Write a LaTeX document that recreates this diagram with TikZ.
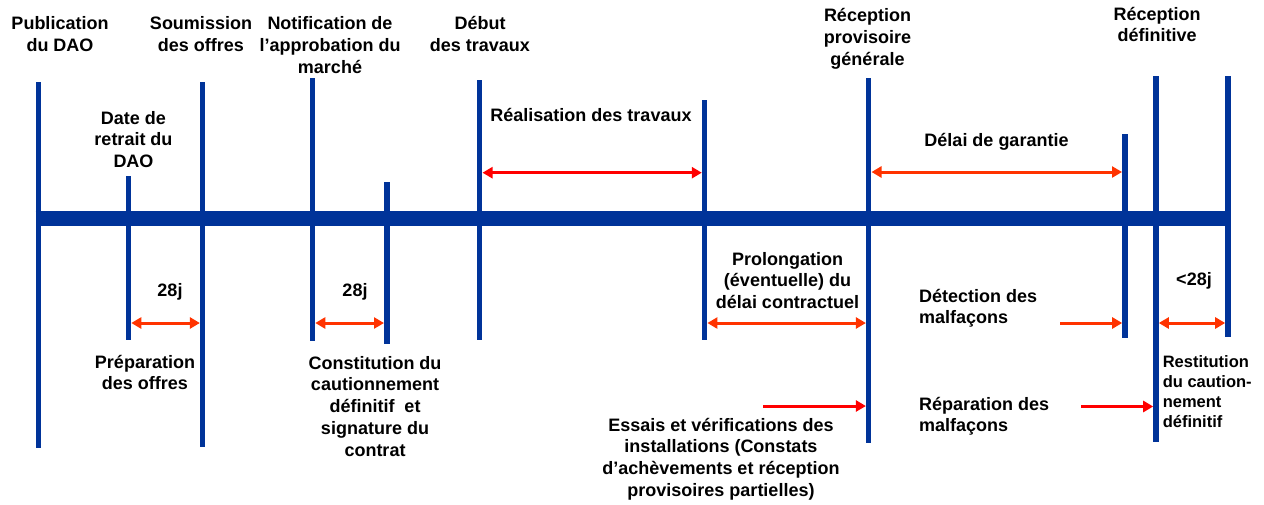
\documentclass[tikz,border=0pt]{standalone}
\usepackage{fontspec}
\setmainfont{Liberation Sans}
\usetikzlibrary{arrows.meta}
\definecolor{barblue}{RGB}{0,51,153}
\definecolor{arrred}{RGB}{255,0,0}
\definecolor{arrorange}{RGB}{255,51,0}
\newcommand\lstrut{\rule{0pt}{15pt}}
\newcommand\sstrut{\rule{0pt}{14pt}}
\tikzset{
  tick/.style={draw=barblue, line width=5.5pt},
  axisbar/.style={draw=barblue, line width=15pt},
  lbl/.style={font=\bfseries\fontsize{18}{21.7}\selectfont, align=center, inner sep=0pt, anchor=north},
  lbll/.style={lbl, align=left, anchor=north west},
  lbls/.style={font=\bfseries\fontsize{16.5}{20}\selectfont, align=left, inner sep=0pt, anchor=north west},
  tipA/.tip={Triangle[length=10pt,width=11pt]},
  dbl/.style={line width=3pt, tipA-tipA},
  sgl/.style={line width=3pt, -tipA},
}
\begin{document}
\begin{tikzpicture}[x=1pt,y=-1pt]
\useasboundingbox (0,0) rectangle (1264,504);
\fill[white] (0,0) rectangle (1264,504);
% main axis
\draw[axisbar] (35.5,218.5) -- (1231,218.5);
% ticks
\draw[tick] (38.5,82) -- (38.5,448);
\draw[tick] (128.5,176) -- (128.5,339.5);
\draw[tick] (202.7,82) -- (202.7,447);
\draw[tick] (312.5,78) -- (312.5,341);
\draw[tick] (386.8,182) -- (386.8,344);
\draw[tick] (479.7,80) -- (479.7,340);
\draw[tick] (704.6,100) -- (704.6,340);
\draw[tick] (868.7,78) -- (868.7,443);
\draw[tick] (1125,134) -- (1125,338);
\draw[tick] (1156,76) -- (1156,442);
\draw[tick] (1228,76) -- (1228,337);
% arrow end points
\coordinate (rA) at (482.5,172.7);
\coordinate (rB) at (701.8,172.7);
\coordinate (gA) at (871.5,172);
\coordinate (gB) at (1122,172);
\coordinate (pA) at (131.3,323);
\coordinate (pB) at (199.9,323);
\coordinate (cA) at (315.3,323);
\coordinate (cB) at (384,323);
\coordinate (lA) at (707.4,323);
\coordinate (lB) at (865.9,323);
\coordinate (dA) at (1060,323);
\coordinate (dB) at (1122.2,323);
\coordinate (tA) at (1158.8,323);
\coordinate (tB) at (1225.2,323);
\coordinate (eA) at (763,406);
\coordinate (eB) at (865.9,406);
\coordinate (mA) at (1081,406.5);
\coordinate (mB) at (1153.2,406.5);
% arrows
\draw[dbl, arrred] (rA) -- (rB);
\draw[dbl, arrorange] (gA) -- (gB);
\draw[dbl, arrorange] (pA) -- (pB);
\draw[dbl, arrorange] (cA) -- (cB);
\draw[dbl, arrorange] (lA) -- (lB);
\draw[sgl, arrorange] (dA) -- (dB);
\draw[dbl, arrorange] (tA) -- (tB);
\draw[sgl, arrred] (eA) -- (eB);
\draw[sgl, arrred] (mA) -- (mB);
% labels
\node[lbl] (pub) at (60,14.5) {\lstrut Publication\\du DAO};
\node[lbl] (soum) at (201,14.5) {\lstrut Soumission\\des offres};
\node[lbl] (notif) at (330,14.5) {\lstrut Notification de\\l’approbation du\\marché};
\node[lbl] (debut) at (480,14.5) {\lstrut Début\\des travaux};
\node[lbl] (recprov) at (867.5,6.5) {\lstrut Réception\\provisoire\\générale};
\node[lbl] (recdef) at (1157,5) {\lstrut Réception\\définitive};
\node[lbl] (date) at (133.5,109) {\lstrut Date de\\retrait du\\DAO};
\node[lbl] (real) at (591,106.5) {\lstrut Réalisation des travaux};
\node[lbl] (delai) at (996.5,131.5) {\lstrut Délai de garantie};
\node[lbl] (j1) at (170,281.5) {\lstrut 28j};
\node[lbl] (j2) at (355,281.5) {\lstrut 28j};
\node[lbl] (prep) at (145,353) {\lstrut Préparation\\des offres};
\node[lbl] (constit) at (375,354) {\lstrut Constitution du\\cautionnement\\définitif~ et\\signature du\\contrat};
\node[lbl] (prolong) at (787.5,250) {\lstrut Prolongation\\(éventuelle) du\\délai contractuel};
\node[lbll] (detect) at (919,287) {\lstrut Détection des\\malfaçons};
\node[lbl] (lt28) at (1194,270) {\lstrut <28j};
\node[lbls] (restit) at (1162.6,353.5) {\sstrut Restitution\\du caution-\\nement\\définitif};
\node[lbl] (essais) at (721,416) {\lstrut Essais et vérifications des\\installations (Constats\\d’achèvements et réception\\provisoires partielles)};
\node[lbll] (repar) at (919,395) {\lstrut Réparation des\\malfaçons};
\end{tikzpicture}
\end{document}
